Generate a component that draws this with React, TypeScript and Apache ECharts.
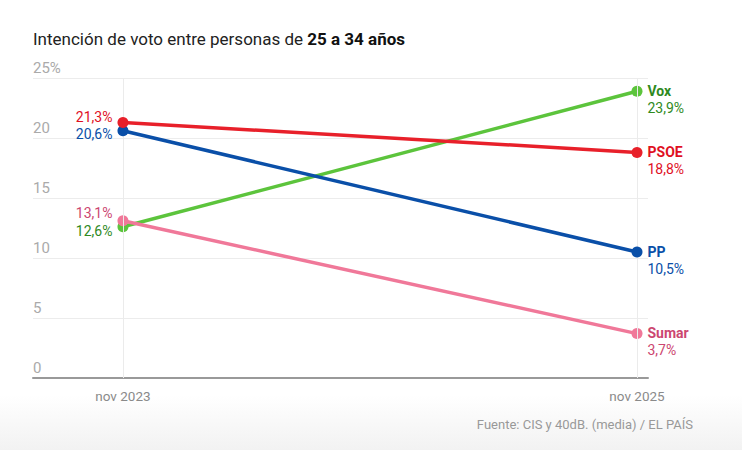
import React, { useEffect, useRef } from "react";
import * as echarts from "echarts";

const periods = ["nov 2023", "nov 2025"];
const yTicks = [0, 5, 10, 15, 20, 25];
const parties = ["Vox", "PSOE", "PP", "Sumar"];
const voxValues = [12.6, 23.9];
const psoeValues = [21.3, 18.8];
const ppValues = [20.6, 10.5];
const sumarValues = [13.1, 3.7];
const lineColors = ["#5cc43c", "#e8202a", "#0a4fa8", "#f07899"];
const textColors = ["#2f8a1e", "#e0101f", "#0a4fa8", "#cc4670"];
const startOffsets = [4, -5, 3, -8];
const endOffsets = [8, 8, 8, 8];

const FONT = "Roboto, 'Noto Sans', sans-serif";

const fmt = (v: number) => v.toFixed(1).replace(".", ",") + "%";

export default function App() {
  const ref = useRef<HTMLDivElement>(null);
  useEffect(() => {
    if (!ref.current) return;
    const chart = echarts.init(ref.current, null, { renderer: "svg" });
    const valuesList = [voxValues, psoeValues, ppValues, sumarValues];
    const drawOrder = [0, 3, 2, 1];
    const series: any[] = [
      {
        type: "line",
        data: [],
        z: 1,
        silent: true,
        markLine: {
          silent: true,
          symbol: "none",
          label: { show: false },
          lineStyle: { color: "#ebebeb", width: 1, type: "solid" },
          data: [{ xAxis: 0 }, { xAxis: 1 }],
        },
      },
    ];
    drawOrder.forEach((i, k) => {
      const vals = valuesList[i];
      series.push({
        type: "line",
        name: parties[i],
        z: 3 + k,
        symbol: "circle",
        symbolSize: 11,
        showAllSymbol: true,
        clip: false,
        lineStyle: { color: lineColors[i], width: 3.5 },
        itemStyle: { color: lineColors[i], borderWidth: 0, opacity: 1 },
        data: [
          {
            value: [0, vals[0]],
            label: {
              show: true,
              position: "left",
              distance: 5,
              offset: [0, startOffsets[i]],
              formatter: fmt(vals[0]),
              color: textColors[i],
              fontFamily: FONT,
              fontSize: 14,
            },
          },
          {
            value: [1, vals[1]],
            label: {
              show: true,
              position: "right",
              distance: 5,
              offset: [0, endOffsets[i]],
              formatter: "{n|" + parties[i] + "}\n{v|" + fmt(vals[1]) + "}",
              rich: {
                n: { fontWeight: "bold", fontSize: 14, color: textColors[i], fontFamily: FONT, lineHeight: 17 },
                v: { fontSize: 14, color: textColors[i], fontFamily: FONT, lineHeight: 17 },
              },
            },
          },
        ],
      });
    });

    chart.setOption({
      animation: false,
      textStyle: { fontFamily: FONT },
      title: {
        left: 28,
        top: 25,
        text: "{a|Intención de voto entre personas de }{b|25 a 34 años}",
        textStyle: {
          fontWeight: "normal",
          rich: {
            a: { fontSize: 17, color: "#222", fontWeight: "normal", fontFamily: FONT },
            b: { fontSize: 17, color: "#111", fontWeight: "bold", fontFamily: FONT },
          },
        },
      },
      graphic: [
        {
          type: "rect",
          z: -10,
          shape: { x: 0, y: 395, width: 742, height: 55 },
          style: {
            fill: new echarts.graphic.LinearGradient(0, 0, 0, 1, [
              { offset: 0, color: "#ffffff" },
              { offset: 1, color: "#f2f2f2" },
            ]),
          },
        },
        {
          type: "text",
          right: 49,
          top: 418,
          style: {
            text: "Fuente: CIS y 40dB. (media) / EL PAÍS",
            fill: "#999",
            fontSize: 13,
            fontFamily: FONT,
          },
        },
      ],
      grid: { left: 33, right: 94, top: 78, bottom: 72, containLabel: false },
      xAxis: {
        type: "value",
        min: -0.175,
        max: 1.0214,
        splitLine: { show: false },
        axisTick: { show: false },
        axisLine: { show: true, lineStyle: { color: "#999", width: 2 } },
        axisLabel: {
          customValues: [0, 1],
          formatter: (v: number) => (Math.abs(v) < 0.01 ? periods[0] : Math.abs(v - 1) < 0.01 ? periods[1] : ""),
          color: "#8a8a8a",
          fontSize: 13.5,
          margin: 11,
          fontFamily: FONT,
        },
      },
      yAxis: {
        type: "value",
        min: 0,
        max: 25,
        interval: 5,
        axisLine: { show: false },
        axisTick: { show: false },
        splitLine: { lineStyle: { color: "#ececec", width: 1 } },
        axisLabel: {
          inside: true,
          margin: 0,
          verticalAlign: "bottom",
          padding: [0, 0, 3, 0],
          color: "#aaa",
          fontSize: 15,
          fontFamily: FONT,
          formatter: (v: number) => (v === yTicks[yTicks.length - 1] ? v + "%" : String(v)),
        },
      },
      series,
    });
    return () => chart.dispose();
  }, []);
  return (
    <div
      ref={ref}
      style={{ position: "fixed", left: 0, top: 0, width: 742, height: 450, background: "#fff" }}
    />
  );
}
